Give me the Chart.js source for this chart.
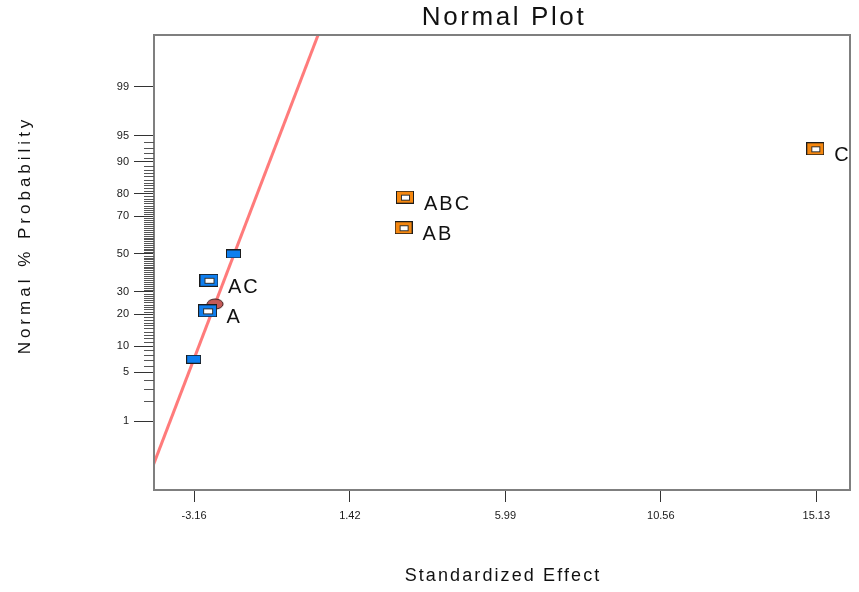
<!DOCTYPE html>
<html>
<head>
<meta charset="utf-8">
<title>Normal Plot</title>
<script src="https://cdn.jsdelivr.net/npm/chart.js@4/dist/chart.umd.min.js"></script>
<style>
  html, body { margin: 0; padding: 0; background: #ffffff; }
  #wrap { width: 859px; height: 592px; }
</style>
</head>
<body>
<div id="wrap"><canvas id="chart" width="859" height="592"></canvas></div>
<script>
// Standardized effects of a 2^3 factorial design, plotted against normal % probability
const negativeLabels  = ['A', 'AC'];
const negativeEffects = [-2.76, -2.72];
const negativeProbs   = [21.43, 35.71];

const errorEffects = [-3.17, -2.00];
const errorProbs   = [7.14, 50.0];

const positiveLabels  = ['AB', 'ABC', 'C'];
const positiveEffects = [3.00, 3.04, 15.10];
const positiveProbs   = [64.29, 78.57, 92.86];

const centerEffects = [-2.54];
const centerProbs   = [24.3];

// reference line through the error terms (effect vs. normal score)
const lineEffects = [-4.81, 0.85];
const lineScores  = [-3.5, 3.5];

const xTickValues   = [-3.16, 1.42, 5.99, 10.56, 15.13];
const yTickPercents = [1, 5, 10, 20, 30, 50, 70, 80, 90, 95, 99];
const yMinorPercents = [2, 3, 4].concat(Array.from({ length: 89 }, (_, i) => i + 6))
  .filter(p => !yTickPercents.includes(p));

const FONT = "'Liberation Sans', Arial, Helvetica, sans-serif";

// inverse standard normal CDF (Acklam)
function probit(p) {
  const a = [-3.969683028665376e+01, 2.209460984245205e+02, -2.759285104469687e+02, 1.383577518672690e+02, -3.066479806614716e+01, 2.506628277459239e+00];
  const b = [-5.447609879822406e+01, 1.615858368580409e+02, -1.556989798598866e+02, 6.680131188771972e+01, -1.328068155288572e+01];
  const c = [-7.784894002430293e-03, -3.223964580411365e-01, -2.400758277161838e+00, -2.549732539343734e+00, 4.374664141464968e+00, 2.938163982698783e+00];
  const d = [7.784695709041462e-03, 3.224671290700398e-01, 2.445134137142996e+00, 3.754408661907416e+00];
  const pl = 0.02425, ph = 1 - pl;
  let q, r;
  if (p < pl) {
    q = Math.sqrt(-2 * Math.log(p));
    return (((((c[0]*q+c[1])*q+c[2])*q+c[3])*q+c[4])*q+c[5]) / ((((d[0]*q+d[1])*q+d[2])*q+d[3])*q+1);
  }
  if (p > ph) {
    q = Math.sqrt(-2 * Math.log(1 - p));
    return -(((((c[0]*q+c[1])*q+c[2])*q+c[3])*q+c[4])*q+c[5]) / ((((d[0]*q+d[1])*q+d[2])*q+d[3])*q+1);
  }
  q = p - 0.5; r = q * q;
  return (((((a[0]*r+a[1])*r+a[2])*r+a[3])*r+a[4])*r+a[5])*q / (((((b[0]*r+b[1])*r+b[2])*r+b[3])*r+b[4])*r+1);
}

function toPoints(effects, probs) {
  return effects.map((x, i) => ({ x: x, y: probit(probs[i] / 100) }));
}

// marker glyphs
function boxMarker(w, h, fill, hollow) {
  const cv = document.createElement('canvas');
  cv.width = w; cv.height = h;
  const g = cv.getContext('2d');
  g.fillStyle = fill;
  g.fillRect(0, 0, w, h);
  g.strokeStyle = '#1c1c1c';
  g.lineWidth = 1;
  g.strokeRect(0.5, 0.5, w - 1, h - 1);
  if (hollow) {
    const iw = Math.round(w * 0.52), ih = Math.round(h * 0.48);
    const ix = Math.round((w - iw) / 2), iy = Math.round((h - ih) / 2);
    g.fillStyle = '#ffffff';
    g.fillRect(ix, iy, iw, ih);
    g.strokeStyle = '#333333';
    g.strokeRect(ix + 0.5, iy + 0.5, iw - 1, ih - 1);
  }
  return cv;
}
function ellipseMarker(w, h, fill) {
  const cv = document.createElement('canvas');
  cv.width = w; cv.height = h;
  const g = cv.getContext('2d');
  g.beginPath();
  g.ellipse(w / 2, h / 2, w / 2 - 1, h / 2 - 1, 0, 0, Math.PI * 2);
  g.fillStyle = fill;
  g.fill();
  g.strokeStyle = '#3a1a1a';
  g.lineWidth = 1;
  g.stroke();
  return cv;
}

const blueSolid    = boxMarker(15, 9, '#0f7ff0', false);
const blueHollow   = boxMarker(19, 13, '#0f7ff0', true);
const orangeHollow = boxMarker(18, 13, '#f5870f', true);
const redEllipse   = ellipseMarker(18, 12, '#c45a58');

const decor = {
  id: 'decor',
  afterDraw(chart) {
    const ctx = chart.ctx;
    const a = chart.chartArea;
    const ys = chart.scales.y;
    ctx.save();

    // frame
    ctx.strokeStyle = '#7f7f7f';
    ctx.lineWidth = 2;
    ctx.strokeRect(a.left, a.top, a.right - a.left, a.bottom - a.top);

    // minor probability ticks
    ctx.strokeStyle = '#555555';
    ctx.lineWidth = 1;
    ctx.beginPath();
    yMinorPercents.forEach(p => {
      const y = Math.round(ys.getPixelForValue(probit(p / 100))) + 0.5;
      ctx.moveTo(a.left - 10, y);
      ctx.lineTo(a.left, y);
    });
    ctx.stroke();

    ctx.fillStyle = '#111111';

    // title
    ctx.font = '26px ' + FONT;
    ctx.textAlign = 'center';
    ctx.textBaseline = 'middle';
    ctx.letterSpacing = '2.6px';
    ctx.fillText('Normal Plot', (a.left + a.right) / 2 + 2, 18);

    // x axis title
    ctx.font = '18px ' + FONT;
    ctx.letterSpacing = '2.1px';
    ctx.fillText('Standardized Effect', (a.left + a.right) / 2 + 1, 576);

    // y axis title
    ctx.save();
    ctx.translate(25, 235);
    ctx.rotate(-Math.PI / 2);
    ctx.font = '17px ' + FONT;
    ctx.letterSpacing = '4px';
    ctx.fillText('Normal % Probability', 0, 0);
    ctx.restore();

    // effect labels
    ctx.font = '20px ' + FONT;
    ctx.letterSpacing = '2px';
    ctx.textAlign = 'left';
    const labelled = [[0, negativeLabels], [2, positiveLabels]];
    labelled.forEach(([di, names]) => {
      chart.getDatasetMeta(di).data.forEach((el, i) => {
        ctx.fillText(names[i], el.x + 19, el.y + 7);
      });
    });
    ctx.restore();
  }
};

new Chart(document.getElementById('chart'), {
  type: 'scatter',
  data: {
    datasets: [
      { label: 'negative', data: toPoints(negativeEffects, negativeProbs), pointStyle: blueHollow, pointRadius: 8 },
      { label: 'error', data: toPoints(errorEffects, errorProbs), pointStyle: blueSolid, pointRadius: 8 },
      { label: 'positive', data: toPoints(positiveEffects, positiveProbs), pointStyle: orangeHollow, pointRadius: 8 },
      { label: 'center', data: toPoints(centerEffects, centerProbs), pointStyle: redEllipse, pointRadius: 8 },
      {
        label: 'fit',
        data: lineEffects.map((x, i) => ({ x: x, y: lineScores[i] })),
        showLine: true, pointRadius: 0, borderColor: '#ff7b7b', borderWidth: 3, clip: 0
      }
    ]
  },
  options: {
    responsive: false,
    animation: false,
    devicePixelRatio: 1,
    events: [],
    layout: { padding: { top: 35, right: 7, left: 0, bottom: 0 } },
    plugins: { legend: { display: false }, tooltip: { enabled: false }, title: { display: false } },
    scales: {
      x: {
        type: 'linear', min: -4.336, max: 16.12,
        afterBuildTicks: s => { s.ticks = xTickValues.map(v => ({ value: v })); },
        afterFit: s => { s.height = 102; },
        border: { display: false },
        grid: { drawOnChartArea: false, drawTicks: true, tickLength: 12, tickColor: '#333333', tickWidth: 1 },
        ticks: {
          autoSkip: false, maxRotation: 0, padding: 7, color: '#1a1a1a',
          font: { family: FONT, size: 11 },
          callback: (v, i) => xTickValues[i].toFixed(2)
        }
      },
      y: {
        type: 'linear', min: -3.287, max: 3.05,
        afterBuildTicks: s => { s.ticks = yTickPercents.map(p => ({ value: probit(p / 100) })); },
        afterFit: s => { s.width = 154; },
        border: { display: false },
        grid: { drawOnChartArea: false, drawTicks: true, tickLength: 20, tickColor: '#333333', tickWidth: 1 },
        ticks: {
          autoSkip: false, padding: 5, color: '#1a1a1a',
          font: { family: FONT, size: 11 },
          callback: (v, i) => String(yTickPercents[i])
        }
      }
    }
  },
  plugins: [decor]
});
</script>
</body>
</html>
